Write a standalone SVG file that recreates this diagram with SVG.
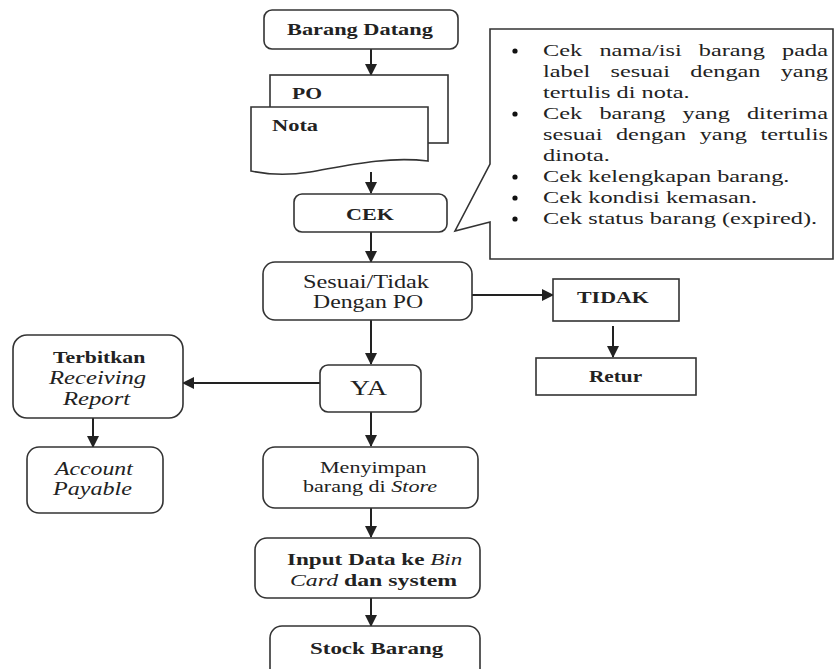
<svg xmlns="http://www.w3.org/2000/svg" width="836" height="669" viewBox="0 0 836 669">
<style>
.box{fill:#fff;stroke:#333;stroke-width:1.6}
.ln{fill:none;stroke:#222;stroke-width:2}
</style>
<defs>
<marker id="ah" markerUnits="userSpaceOnUse" markerWidth="12" markerHeight="12" refX="11" refY="6" orient="auto">
<path d="M0,0 L12,6 L0,12 z" fill="#222"/>
</marker>
</defs>
<rect width="836" height="669" fill="#fff"/>

<g id="connectors">
<line class="ln" x1="371" y1="49" x2="371" y2="75" marker-end="url(#ah)"/>
<line class="ln" x1="371" y1="172" x2="371" y2="193" marker-end="url(#ah)"/>
<line class="ln" x1="371" y1="232" x2="371" y2="262" marker-end="url(#ah)"/>
<line class="ln" x1="472" y1="295" x2="553" y2="295" marker-end="url(#ah)"/>
<line class="ln" x1="613" y1="326" x2="613" y2="357" marker-end="url(#ah)"/>
<line class="ln" x1="371" y1="320" x2="371" y2="364" marker-end="url(#ah)"/>
<line class="ln" x1="320" y1="383" x2="183" y2="383" marker-end="url(#ah)"/>
<line class="ln" x1="93" y1="418" x2="93" y2="447" marker-end="url(#ah)"/>
<line class="ln" x1="371" y1="412" x2="371" y2="446" marker-end="url(#ah)"/>
<line class="ln" x1="371" y1="508" x2="371" y2="537" marker-end="url(#ah)"/>
<line class="ln" x1="371" y1="598" x2="371" y2="626" marker-end="url(#ah)"/>
</g>

<g id="barang-datang">
<rect class="box" x="264" y="10" width="194" height="39" rx="8"/>
<text font-family="Liberation Serif" fill="#222" font-size="17" font-weight="bold" transform="translate(287 35) scale(1.315 1)">Barang Datang</text>
</g>

<g id="dokumen">
<rect class="box" x="270" y="75" width="178" height="68"/>
<text font-family="Liberation Serif" fill="#222" font-size="17" font-weight="bold" transform="translate(292 99) scale(1.27 1)">PO</text>
<path class="box" d="M251,107 H428 V161 C385,156 345,166 310,172 C285,176 265,174 251,171 Z"/>
<text font-family="Liberation Serif" fill="#222" font-size="17" font-weight="bold" transform="translate(272 131) scale(1.32 1)">Nota</text>
</g>

<g id="cek">
<rect class="box" x="294" y="194" width="153" height="38" rx="8"/>
<text font-family="Liberation Serif" fill="#222" font-size="17" font-weight="bold" transform="translate(346 220) scale(1.3 1)">CEK</text>
</g>

<g id="callout">
<path class="box" d="M490,29 H833 V259 H490 V222 L455,231 L490,164 Z"/>
<g fill="#111">
<circle cx="515" cy="51" r="2.6"/>
<circle cx="515" cy="114" r="2.6"/>
<circle cx="515" cy="177" r="2.6"/>
<circle cx="515" cy="198" r="2.6"/>
<circle cx="515" cy="219" r="2.6"/>
</g>
<g transform="translate(543 0) scale(1.52 1)" fill="#222">
<text font-family="Liberation Serif" font-size="16" x="0" y="56">Cek</text>
<text font-family="Liberation Serif" font-size="16" x="37.1" y="56">nama/isi</text>
<text font-family="Liberation Serif" font-size="16" x="102.5" y="56">barang</text>
<text font-family="Liberation Serif" font-size="16" x="157.3" y="56">pada</text>
<text font-family="Liberation Serif" font-size="16" x="0" y="77">label</text>
<text font-family="Liberation Serif" font-size="16" x="44.4" y="77">sesuai</text>
<text font-family="Liberation Serif" font-size="16" x="96.9" y="77">dengan</text>
<text font-family="Liberation Serif" font-size="16" x="156.4" y="77">yang</text>
<text font-family="Liberation Serif" font-size="16" x="0" y="98">tertulis di nota.</text>
<text font-family="Liberation Serif" font-size="16" x="0" y="119">Cek</text>
<text font-family="Liberation Serif" font-size="16" x="37.1" y="119">barang</text>
<text font-family="Liberation Serif" font-size="16" x="91.8" y="119">yang</text>
<text font-family="Liberation Serif" font-size="16" x="134.2" y="119">diterima</text>
<text font-family="Liberation Serif" font-size="16" x="0" y="140">sesuai</text>
<text font-family="Liberation Serif" font-size="16" x="48" y="140">dengan</text>
<text font-family="Liberation Serif" font-size="16" x="103.1" y="140">yang</text>
<text font-family="Liberation Serif" font-size="16" x="143.1" y="140">tertulis</text>
<text font-family="Liberation Serif" font-size="16" x="0" y="161">dinota.</text>
<text font-family="Liberation Serif" font-size="16" x="0" y="182">Cek kelengkapan barang.</text>
<text font-family="Liberation Serif" font-size="16" x="0" y="203">Cek kondisi kemasan.</text>
<text font-family="Liberation Serif" font-size="16" x="0" y="224">Cek status barang (expired).</text>
</g>
</g>

<g id="sesuai">
<rect class="box" x="263" y="262" width="209" height="58" rx="12"/>
<text font-family="Liberation Serif" fill="#222" font-size="18" transform="translate(303 288) scale(1.35 1)">Sesuai/Tidak</text>
<text font-family="Liberation Serif" fill="#222" font-size="18" transform="translate(313 308) scale(1.32 1)">Dengan PO</text>
</g>

<g id="tidak">
<rect class="box" x="553" y="279" width="126" height="42"/>
<text font-family="Liberation Serif" fill="#222" font-size="17" font-weight="bold" transform="translate(577 303) scale(1.29 1)">TIDAK</text>
</g>

<g id="retur">
<rect class="box" x="536" y="358" width="160" height="37"/>
<text font-family="Liberation Serif" fill="#222" font-size="17" font-weight="bold" transform="translate(589 382) scale(1.25 1)">Retur</text>
</g>

<g id="ya">
<rect class="box" x="320" y="365" width="101" height="47" rx="8"/>
<text font-family="Liberation Serif" fill="#222" font-size="22" transform="translate(350 395) scale(1.26 1)">YA</text>
</g>

<g id="terbitkan">
<rect class="box" x="13" y="335" width="170" height="83" rx="14"/>
<text font-family="Liberation Serif" fill="#222" font-size="17" font-weight="bold" transform="translate(53 363) scale(1.28 1)">Terbitkan</text>
<text font-family="Liberation Serif" fill="#222" font-size="18" font-style="italic" transform="translate(49 384) scale(1.37 1)">Receiving</text>
<text font-family="Liberation Serif" fill="#222" font-size="18" font-style="italic" transform="translate(63 405) scale(1.37 1)">Report</text>
</g>

<g id="account">
<rect class="box" x="27" y="447" width="136" height="66" rx="12"/>
<text font-family="Liberation Serif" fill="#222" font-size="18" font-style="italic" transform="translate(55 475) scale(1.32 1)">Account</text>
<text font-family="Liberation Serif" fill="#222" font-size="18" font-style="italic" transform="translate(53 495) scale(1.34 1)">Payable</text>
</g>

<g id="menyimpan">
<rect class="box" x="263" y="447" width="215" height="61" rx="12"/>
<text font-family="Liberation Serif" fill="#222" font-size="16" transform="translate(320 473) scale(1.38 1)">Menyimpan</text>
<text font-family="Liberation Serif" fill="#222" font-size="16" transform="translate(303 492) scale(1.38 1)">barang di <tspan font-style="italic">Store</tspan></text>
</g>

<g id="input">
<rect class="box" x="255" y="538" width="225" height="60" rx="12"/>
<text font-family="Liberation Serif" fill="#222" font-size="17" font-weight="bold" transform="translate(287 565) scale(1.36 1)">Input Data ke <tspan font-style="italic" font-weight="normal">Bin</tspan></text>
<text font-family="Liberation Serif" fill="#222" font-size="17" font-weight="bold" transform="translate(290 586) scale(1.4 1)"><tspan font-style="italic" font-weight="normal">Card</tspan> dan system</text>
</g>

<g id="stock">
<rect class="box" x="270" y="626" width="210" height="60" rx="12"/>
<text font-family="Liberation Serif" fill="#222" font-size="17" font-weight="bold" transform="translate(310 654) scale(1.35 1)">Stock Barang</text>
</g>
</svg>
